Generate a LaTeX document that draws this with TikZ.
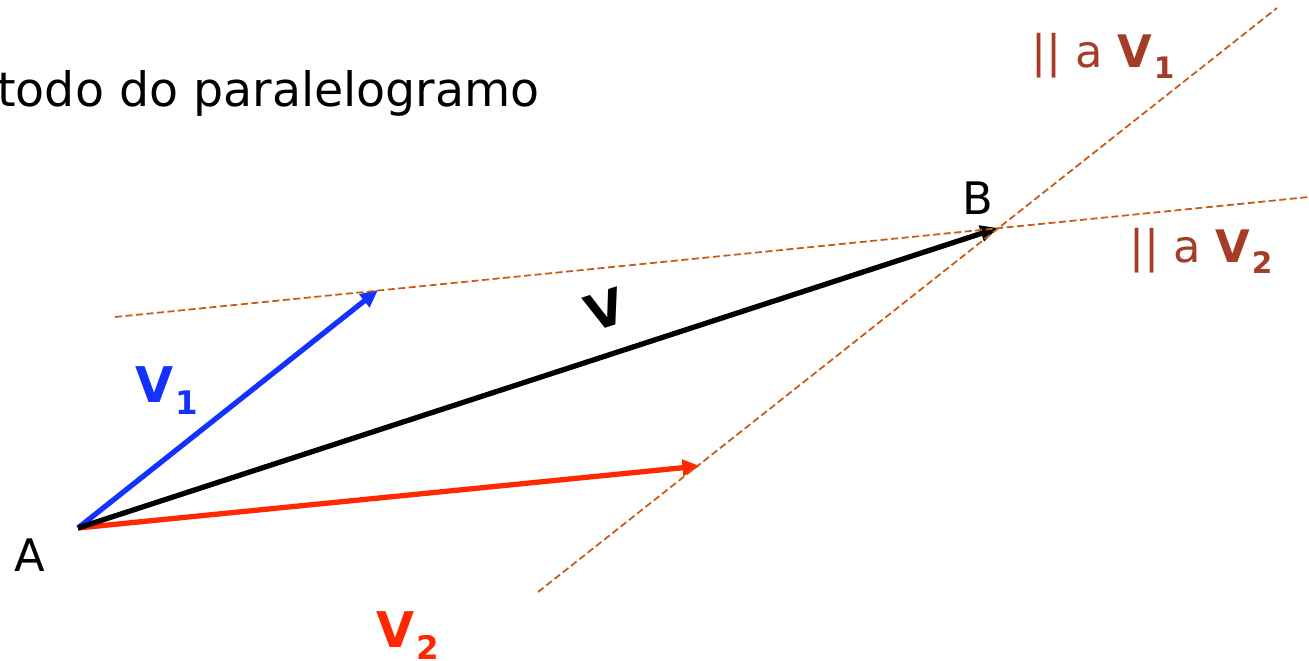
\documentclass[tikz,border=0pt]{standalone}
\usepackage{fontspec}
\setmainfont{DejaVu Sans}
\usetikzlibrary{arrows.meta}
\definecolor{vecblue}{RGB}{20,50,255}
\definecolor{vecred}{RGB}{255,40,0}
\definecolor{guidedraw}{RGB}{200,90,20}
\definecolor{guidetext}{RGB}{165,60,40}
\newcommand{\vlab}[1]{\textbf{V}\kern1pt\raisebox{-0.44ex}{\scalebox{0.66}{\textbf{#1}}}}

\begin{document}
\begin{tikzpicture}[
  x=0.02cm, y=-0.02cm,
  vecline/.style={line width=3pt, -{Triangle[length=10pt,width=9pt]}},
  guide/.style={draw=guidedraw, line width=1pt, dash pattern=on 4pt off 2pt},
  lbl/.style={font=\fontsize{25.5}{30}\selectfont, inner sep=0pt},
  vlbl/.style={font=\fontsize{28}{32}\selectfont, inner sep=0pt}
]
\useasboundingbox (0,0) rectangle (1309,661);

% Title (cut at the left edge)
\node[lbl, font=\fontsize{27}{32}\selectfont, anchor=base west] (title) at (-3,107) {todo do paralelogramo};

% End points of the vectors
\coordinate (A) at (78,528);
\coordinate (B) at (998,228);
\coordinate (v1tip) at (378,290);
\coordinate (v2tip) at (700,466);

% Ends of the parallel guide lines
\coordinate (g1a) at (115,317);
\coordinate (g1b) at (1309,197);
\coordinate (g2a) at (538,592);
\coordinate (g2b) at (1277,8);

% Vectors
\draw[vecline, vecblue] (A) -- (v1tip);
\draw[vecline, vecred] (A) -- (v2tip);
\draw[vecline, black] (A) -- (B);

% Guide lines through the tips
\draw[guide] (g1a) -- (g1b);
\draw[guide] (g2a) -- (g2b);

% Labels
\node[lbl] (labA) at (30,555) {A};
\node[lbl] (labB) at (978,198) {B};
\node[vlbl, text=vecblue, anchor=base west] (labv1) at (135,403) {\vlab{1}};
\node[vlbl, text=vecred, anchor=base west] (labv2) at (376,648) {\vlab{2}};
\node[vlbl, rotate=18] (labv) at (605,310) {\textbf{V}};
\node[lbl, text=guidetext, anchor=base west] (par1) at (1031,68) {|| a \vlab{1}};
\node[lbl, text=guidetext, anchor=base west] (par2) at (1129,263) {|| a \vlab{2}};

\end{tikzpicture}
\end{document}
